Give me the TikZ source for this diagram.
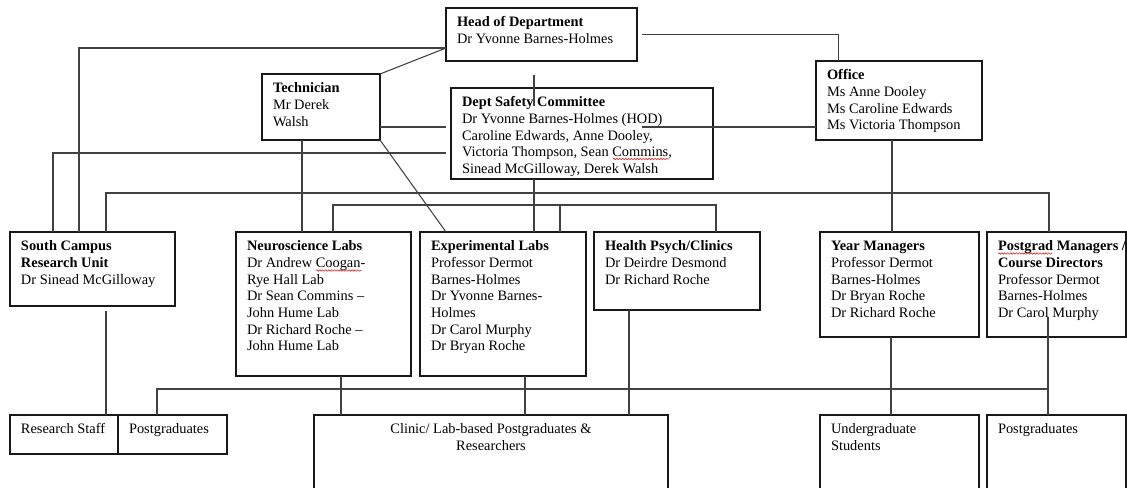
\documentclass[tikz,border=0pt]{standalone}
\usepackage{fontspec}
\setmainfont{Liberation Serif}
\usetikzlibrary{calc,decorations.pathmorphing}
\newdimen\pxu \pxu=0.75pt
\definecolor{boxc}{RGB}{25,25,25}
\definecolor{linec}{RGB}{65,65,65}
\definecolor{spellred}{RGB}{220,40,40}
\tikzset{
  obox/.style={draw=boxc, line width=0.9pt, anchor=north west, inner xsep=8.25pt, inner ysep=5.25pt,
    outer sep=0pt, fill=white, font=\fontsize{10.8}{12.5}\selectfont},
  link/.style={draw=linec, line width=0.8pt},
  squig/.style={draw=spellred, line width=0.45pt, decorate, decoration={snake, amplitude=0.55pt, segment length=2.2pt}},
}
\newcommand{\orgbox}[6]{\node[obox] (#1) at (#2,#3) {\parbox[t][\dimexpr\pxu*(#5-14)\relax][t]{\dimexpr\pxu*(#4-22)\relax}{\raggedright\hyphenpenalty10000\exhyphenpenalty10000\strut #6}};}
\begin{document}
\begin{tikzpicture}[x=0.75pt,y=-0.75pt]
\useasboundingbox (0,0) rectangle (1127,487);
\clip (0,0) rectangle (1127,487);
% boxes
\orgbox{head}{446}{8}{191}{53}{\textbf{Head of Department}\\Dr Yvonne Barnes-Holmes}
\orgbox{tech}{262}{74}{118}{66}{\textbf{Technician}\\Mr Derek\\Walsh}
\orgbox{dsc}{451}{88}{262}{91}{\textbf{Dept Safety Committee}\\Dr Yvonne Barnes-Holmes (HOD)\\Caroline Edwards, Anne Dooley,\\Victoria Thompson, Sean Commins,\\Sinead McGilloway, Derek Walsh}
\orgbox{office}{816}{61}{166}{79}{\textbf{Office}\\Ms Anne Dooley\\Ms Caroline Edwards\\\mbox{Ms Victoria Thompson}}
\orgbox{scru}{10}{232}{165}{74}{\textbf{South Campus}\\\textbf{Research Unit}\\\mbox{Dr Sinead McGilloway}}
\orgbox{nl}{236}{232}{175}{144}{\textbf{Neuroscience Labs}\\Dr Andrew Coogan-\\Rye Hall Lab\\Dr Sean Commins –\\John Hume Lab\\Dr Richard Roche –\\John Hume Lab}
\orgbox{exp}{420}{232}{166}{144}{\textbf{Experimental Labs}\\Professor Dermot\\Barnes-Holmes\\Dr Yvonne Barnes-\\Holmes\\Dr Carol Murphy\\Dr Bryan Roche}
\orgbox{hp}{594}{232}{166}{78}{\textbf{Health Psych/Clinics}\\Dr Deirdre Desmond\\Dr Richard Roche}
\orgbox{ym}{820}{232}{159}{105}{\textbf{Year Managers}\\Professor Dermot\\Barnes-Holmes\\Dr Bryan Roche\\Dr Richard Roche}
\orgbox{pgm}{987}{232}{139}{105}{\mbox{\textbf{Postgrad Managers /}}\\\textbf{Course Directors}\\Professor Dermot\\Barnes-Holmes\\Dr Carol Murphy}
\orgbox{rs}{10}{415}{108}{39}{Research Staff}
\orgbox{pgA}{118}{415}{109}{39}{Postgraduates}
\orgbox{clinic}{314}{415}{354}{80}{\centering Clinic/ Lab-based Postgraduates \&\\Researchers}
\orgbox{ug}{820}{415}{159}{80}{Undergraduate\\Students}
\orgbox{pgB}{987}{415}{139}{80}{Postgraduates}
% spell-check underlines
\draw[squig] ($(nl.north west)+(80,38.5)$) -- ++(45,0);
\draw[squig] ($(dsc.north west)+(162,71)$) -- ++(56,0);
\draw[squig] ($(pgm.north west)+(11,21.5)$) -- ++(54,0);
% connectors
\coordinate (hl) at ($(head.south west)+(0,-13)$);
\draw[link] ($(head.east)+(5,0)$) -| ($(office.north west)+(22.5,0)$);
\draw[link] (hl) -| ($(scru.north west)+(69,0)$);
\draw[link] (hl) -- (tech.north east);
\draw[link] ($(head.south west)+(88,14)$) -- ($(dsc.north west)+(83,18)$);
\draw[link] ($(tech.south east)+(0,-13)$) -- ($(dsc.south west)+(-5,-52)$);
\draw[link] ($(dsc.south west)+(191,-52)$) -- (office.west |- 642,127);
\draw[link] ($(dsc.south west)+(-5,-26)$) -| ($(scru.north west)+(43,0)$);
\draw[link] (tech.south -| 302,0) -- (nl.north -| 302,0);
\draw[link] (tech.south east) -- ($(exp.north west)+(26,0)$);
\draw[link] ($(scru.north west)+(96,0)$) -- ++(0,-39) -| ($(pgm.north west)+(62,0)$);
\draw[link] (office.south -| 892,0) -- (ym.north -| 892,0);
\draw[link] ($(nl.north west)+(97,0)$) -- ++(0,-27) -| ($(hp.north west)+(122,0)$);
\draw[link] (exp.north -| 560,0) -- ++(0,-27);
\draw[link] (dsc.south -| 534,0) -- (exp.north -| 534,0);
\draw[link] ($(scru.south west)+(96,5)$) -- ($(rs.north west)+(96,0)$);
\draw[link] (nl.south -| 341,0) -- (clinic.north -| 341,0);
\draw[link] (exp.south -| 525,0) -- (clinic.north -| 525,0);
\draw[link] (hp.south -| 629,0) -- (clinic.north -| 629,0);
\draw[link] (ym.south -| 891,0) -- (ug.north -| 891,0);
\draw[link] ($(pgm.south -| 1048,0)+(0,-20)$) -- (pgB.north -| 1048,0);
\draw[link] ($(pgA.north west)+(39,0)$) |- ($(pgB.north west)+(61,-26)$);
\end{tikzpicture}
\end{document}
